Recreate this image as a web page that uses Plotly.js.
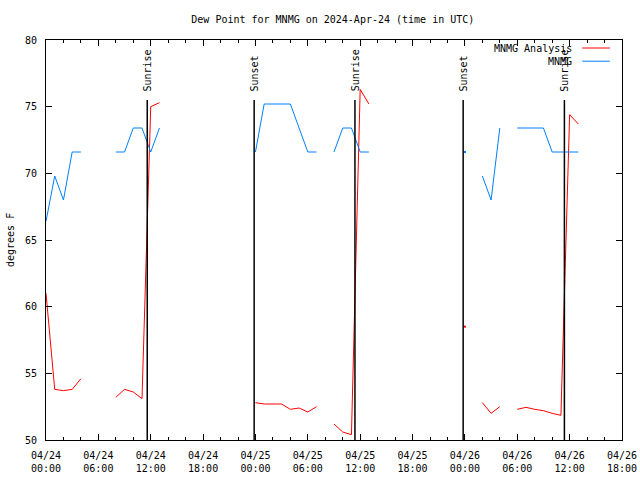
<!DOCTYPE html>
<html>
<head>
<meta charset="utf-8">
<script src="https://cdn.plot.ly/plotly-3.0.1.min.js"></script>
<style>html,body{margin:0;padding:0;background:#fff}#chart{width:640px;height:480px}</style>
</head>
<body>
<div id="chart"></div>
<script>
// hours after 2024-04-24 00:00 UTC
var hours = [0,1,2,3,4,5,6,7,8,9,10,11,12,13,14,15,16,17,18,19,20,21,22,23,24,25,26,27,28,29,30,31,32,33,34,35,36,37,38,39,40,41,42,43,44,45,46,47,48,49,50,51,52,53,54,55,56,57,58,59,60,61];
var analysis = [61.0,53.8,53.7,53.8,54.6,null,null,null,53.2,53.8,53.6,53.1,75.0,75.3,
  null,null,null,null,null,null,null,null,null,null,
  52.8,52.7,52.7,52.7,52.3,52.4,52.1,52.5,null,51.2,50.6,50.4,76.3,75.2,
  null,null,null,null,null,null,null,null,null,null,
  58.5,null,52.8,52.0,52.5,null,52.3,52.45,52.3,52.2,52.0,51.85,74.4,73.7];
var observed = [66.4,69.8,68.0,71.6,71.6,null,null,null,71.6,71.6,73.4,73.4,71.6,73.4,
  null,null,null,null,null,null,null,null,null,null,
  71.6,75.2,75.2,75.2,75.2,73.4,71.6,71.6,null,71.6,73.4,73.4,71.6,71.6,
  null,null,null,null,null,null,null,null,null,null,
  71.6,null,69.8,68.0,73.4,null,73.4,73.4,73.4,73.4,71.6,71.6,71.6,71.6];
var eventHours = [11.6, 23.85, 35.4, 47.8, 59.4];
var eventLabels = ['Sunrise','Sunset','Sunrise','Sunset','Sunrise'];
var tickHours = [0,6,12,18,24,30,36,42,48,54,60,66];
var tickLabels = ['04/24<br>00:00','04/24<br>06:00','04/24<br>12:00','04/24<br>18:00',
  '04/25<br>00:00','04/25<br>06:00','04/25<br>12:00','04/25<br>18:00',
  '04/26<br>00:00','04/26<br>06:00','04/26<br>12:00','04/26<br>18:00'];
var seriesNames = ['MNMG Analysis','MNMG'];

var RED = '#ff0000', BLUE = '#0080ff';
var FONT = {family: 'DejaVu Sans Mono, Liberation Mono, monospace', size: 10, color: '#000'};

function isolated(ys) {
  var xs = [], vs = [];
  for (var i = 0; i < ys.length; i++) {
    if (ys[i] !== null && (i === 0 || ys[i-1] === null) && (i === ys.length-1 || ys[i+1] === null)) {
      xs.push(hours[i]); vs.push(ys[i]);
    }
  }
  return {x: xs, y: vs};
}
var isoA = isolated(analysis), isoO = isolated(observed);

var traces = [
  {x: hours, y: analysis, mode: 'lines', line: {color: RED, width: 1}, connectgaps: false, name: seriesNames[0], hoverinfo: 'skip'},
  {x: hours, y: observed, mode: 'lines', line: {color: BLUE, width: 1}, connectgaps: false, name: seriesNames[1], hoverinfo: 'skip'},
  {x: isoA.x, y: isoA.y, mode: 'markers', marker: {color: RED, size: 2, symbol: 'square'}, hoverinfo: 'skip'},
  {x: isoO.x, y: isoO.y, mode: 'markers', marker: {color: BLUE, size: 2, symbol: 'square'}, hoverinfo: 'skip'}
];

var shapes = [], annotations = [];
eventHours.forEach(function (h, i) {
  shapes.push({type: 'line', xref: 'x', yref: 'y', x0: h, x1: h, y0: 50, y1: 75.5, line: {color: '#000', width: 1.5}});
  annotations.push({xref: 'x', yref: 'y', x: h, y: 76.0, text: eventLabels[i], textangle: -90,
    showarrow: false, xanchor: 'center', yanchor: 'bottom', font: FONT});
});
// legend (gnuplot style: text then line sample)
var legY = [0.98, 0.947], legC = [RED, BLUE];
seriesNames.forEach(function (n, i) {
  annotations.push({xref: 'paper', yref: 'paper', x: 0.917, y: legY[i], text: n, showarrow: false,
    xanchor: 'right', yanchor: 'middle', font: FONT});
  shapes.push({type: 'line', xref: 'paper', yref: 'paper', x0: 0.931, x1: 0.979, y0: legY[i], y1: legY[i],
    line: {color: legC[i], width: 1}});
});
// y-axis title
annotations.push({xref: 'paper', yref: 'paper', x: -0.0625, y: 0.5, text: 'degrees F', textangle: -90,
  showarrow: false, xanchor: 'center', yanchor: 'middle', font: FONT});

var layout = {
  width: 640, height: 480,
  margin: {l: 46, r: 18, t: 40, b: 40, pad: 0},
  paper_bgcolor: '#fff', plot_bgcolor: '#fff',
  showlegend: false,
  font: FONT,
  title: {text: 'Dew Point for MNMG on 2024-Apr-24 (time in UTC)', font: FONT,
    x: 0.52, xanchor: 'center', y: 1 - 19/480, yref: 'container', yanchor: 'middle'},
  xaxis: {range: [0, 66], tickmode: 'array', tickvals: tickHours, ticktext: tickLabels,
    ticks: 'inside', ticklen: 6, tickcolor: '#000', showline: true, linecolor: '#000', linewidth: 1,
    mirror: 'ticks', showgrid: false, zeroline: false, tickfont: FONT, ticklabelstandoff: 6,
    minor: {tick0: 0, dtick: 2, ticks: 'inside', ticklen: 3, tickcolor: '#000', showgrid: false}},
  yaxis: {range: [50, 80], tickmode: 'linear', tick0: 50, dtick: 5,
    ticks: 'inside', ticklen: 6, tickcolor: '#000', showline: true, linecolor: '#000', linewidth: 1,
    mirror: 'ticks', showgrid: false, zeroline: false, tickfont: FONT, ticklabelstandoff: 6},
  shapes: shapes,
  annotations: annotations
};
Plotly.newPlot('chart', traces, layout, {staticPlot: true, displayModeBar: false});
</script>
</body>
</html>
